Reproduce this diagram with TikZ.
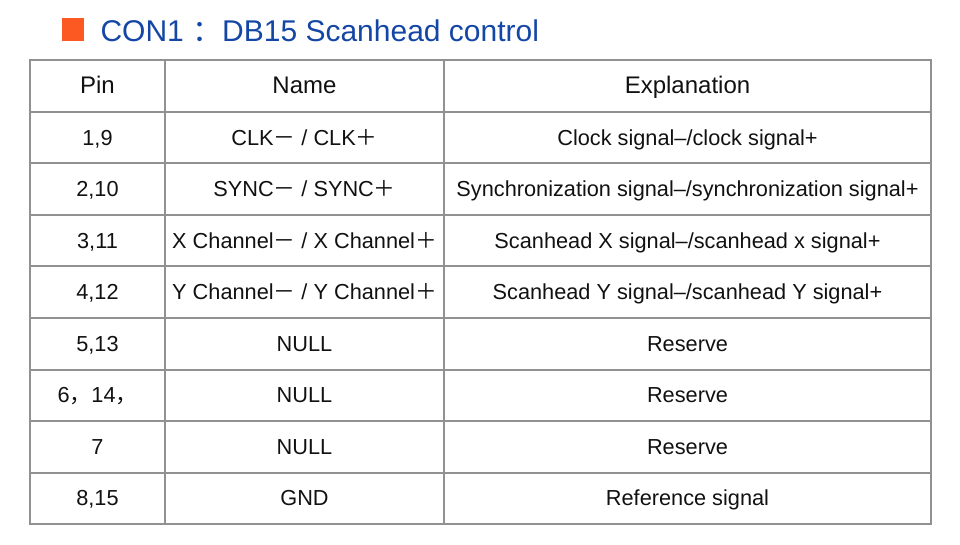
\documentclass[tikz,border=0pt]{standalone}
\usepackage{fontspec}
\setmainfont{Liberation Sans}
\newfontfamily\cjk{Noto Sans CJK SC}
\definecolor{gridgrey}{RGB}{145,145,145}
\definecolor{titleblue}{RGB}{20,70,165}
\definecolor{markorange}{RGB}{252,88,34}
\newcommand{\fm}{{\cjk －}}
\newcommand{\fp}{{\cjk ＋}}
\tikzset{every picture/.style={line width=0.75pt}}
\tikzset{
  cell/.style={anchor=base,inner sep=0.75pt,font=\fontsize{16.3}{19}\selectfont,color={rgb, 255:red, 17; green, 17; blue, 17 }},
  headcell/.style={anchor=base,inner sep=0.75pt,font=\fontsize{18}{21}\selectfont,color={rgb, 255:red, 17; green, 17; blue, 17 }},
  gridline/.style={color=gridgrey,line width=1.5pt}
}

\begin{document}
\begin{tikzpicture}[x=0.75pt,y=0.75pt,yscale=-1,xscale=1]
\useasboundingbox (0,0) rectangle (960,544);

%Title mark
\fill [markorange] (62,18) rectangle (84,41) ;
% Text Node
\draw (100,41) node (title) [anchor=base west][inner sep=0pt]  [font=\fontsize{22.5}{27}\selectfont,color=titleblue]  {CON1 {\cjk ：}DB15 Scanhead control};

%Table frame
\draw [gridline]  (30,60) rectangle (931,524) ;
%Column lines
\draw [gridline]  (165,60) -- (165,524) ;
\draw [gridline]  (444,60) -- (444,524) ;
%Row lines
\foreach \y in {111.5,163,214.5,266,318,369.5,421,472.5}
  \draw [gridline]  (30,\y) -- (931,\y) ;

% Text Node
\draw (97.5,93.5) node (pinhead) [headcell]  {Pin};
% Text Node
\draw (304.5,93.5) node (namehead) [headcell]  {Name};
% Text Node
\draw (687.5,93.5) node (explhead) [headcell]  {Explanation};

% Text Node
\draw (97.5,145) node (pin1) [cell]  {1,9};
% Text Node
\draw (304.5,145) node (name1) [cell]  {CLK\fm\ / CLK\fp};
% Text Node
\draw (687.5,145) node (expl1) [cell]  {Clock signal–/clock signal+};

% Text Node
\draw (97.5,196.5) node (pin2) [cell]  {2,10};
% Text Node
\draw (304.5,196.5) node (name2) [cell]  {SYNC\fm\ / SYNC\fp};
% Text Node
\draw (687.5,196.5) node (expl2) [cell]  {Synchronization signal–/synchronization signal+};

% Text Node
\draw (97.5,248) node (pin3) [cell]  {3,11};
% Text Node
\draw (304.5,248) node (name3) [cell]  {X Channel\fm\ / X Channel\fp};
% Text Node
\draw (687.5,248) node (expl3) [cell]  {Scanhead X signal–/scanhead x signal+};

% Text Node
\draw (97.5,299.5) node (pin4) [cell]  {4,12};
% Text Node
\draw (304.5,299.5) node (name4) [cell]  {Y Channel\fm\ / Y Channel\fp};
% Text Node
\draw (687.5,299.5) node (expl4) [cell]  {Scanhead Y signal–/scanhead Y signal+};

% Text Node
\draw (97.5,351) node (pin5) [cell]  {5,13};
% Text Node
\draw (304.5,351) node (name5) [cell]  {NULL};
% Text Node
\draw (687.5,351) node (expl5) [cell]  {Reserve};

% Text Node
\draw (97.5,402.5) node (pin6) [cell]  {6{\cjk ，}14{\cjk ，}};
% Text Node
\draw (304.5,402.5) node (name6) [cell]  {NULL};
% Text Node
\draw (687.5,402.5) node (expl6) [cell]  {Reserve};

% Text Node
\draw (97.5,454) node (pin7) [cell]  {7};
% Text Node
\draw (304.5,454) node (name7) [cell]  {NULL};
% Text Node
\draw (687.5,454) node (expl7) [cell]  {Reserve};

% Text Node
\draw (97.5,505.5) node (pin8) [cell]  {8,15};
% Text Node
\draw (304.5,505.5) node (name8) [cell]  {GND};
% Text Node
\draw (687.5,505.5) node (expl8) [cell]  {Reference signal};

\end{tikzpicture}
\end{document}
